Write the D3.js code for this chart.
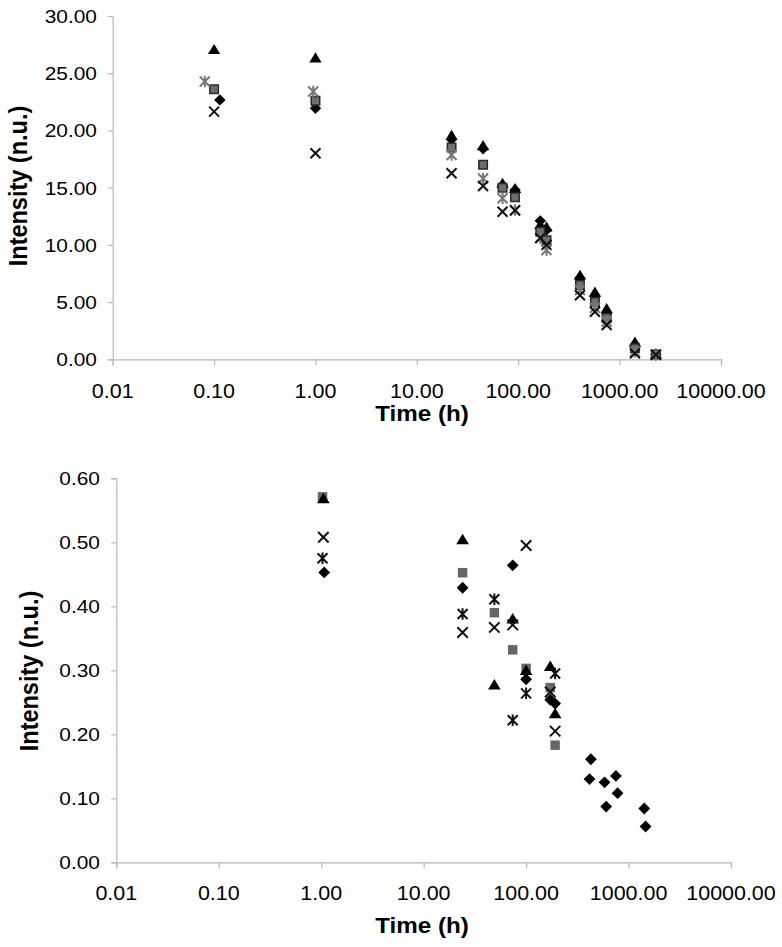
<!DOCTYPE html>
<html><head><meta charset="utf-8">
<script src="https://cdn.jsdelivr.net/npm/d3@7"></script>
<style>body{margin:0;background:#fff}svg{display:block}text{font-family:"Liberation Sans",Arial,sans-serif;fill:#000}</style>
</head><body>
<script>
// ---------- DATA ----------
const xTicks = [0.01, 0.1, 1, 10, 100, 1000, 10000];
const topYTicks = [0, 5, 10, 15, 20, 25, 30];
const botYTicks = [0, 0.1, 0.2, 0.3, 0.4, 0.5, 0.6];

// Top chart
const topDiamondT = [0.114, 1, 22, 45, 70, 93, 165, 190, 406, 571, 745, 1416, 2280];
const topDiamondV = [22.67, 21.94, 19.2, 18.4, 15.2, 14.8, 12.1, 11.3, 7.1, 5.5, 4.0, 1.1, 0.45];
const topSquareT = [0.1, 1, 22, 45, 70, 93, 165, 190, 406, 571, 745, 1416, 2280];
const topSquareV = [23.6, 22.6, 18.5, 17.0, 15.0, 14.16, 11.15, 10.4, 6.5, 5.0, 3.6, 0.96, 0.42];
const topTriangleT = [0.1, 1, 22, 45, 70, 93, 165, 190, 406, 571, 745, 1416, 2280];
const topTriangleV = [27.1, 26.37, 19.6, 18.7, 15.4, 14.95, 11.8, 11.6, 7.37, 5.9, 4.46, 1.54, 0.5];
const topXT = [0.1, 1, 22, 45, 70, 93, 165, 190, 406, 571, 745, 1416, 2280];
const topXV = [21.64, 18.0, 16.26, 15.15, 12.9, 13.0, 10.6, 10.0, 5.6, 4.16, 3.0, 0.52, 0.4];
const topStarT = [0.081, 0.95, 22, 45, 70, 93, 165, 190, 406, 571, 745, 1416, 2280];
const topStarV = [24.27, 23.4, 17.86, 15.8, 14.07, 13.05, 10.6, 9.55, 6.06, 4.5, 3.3, 0.66, 0.38];

// Bottom chart
const botDiamondT = [1.07, 24, 74, 100, 172, 192, 416, 429, 583, 605, 753, 781, 1423, 1466];
const botDiamondV = [0.453, 0.429, 0.464, 0.286, 0.254, 0.248, 0.130, 0.161, 0.125, 0.087, 0.135, 0.108, 0.084, 0.056];
const botSquareT = [1.03, 24, 49, 74, 100, 172, 192];
const botSquareV = [0.571, 0.4525, 0.39, 0.332, 0.303, 0.273, 0.183];
const botTriangleT = [1.05, 24, 49, 74, 100, 172, 192];
const botTriangleV = [0.569, 0.505, 0.278, 0.381, 0.3005, 0.307, 0.233];
const botXT = [1.05, 24, 49, 74, 100, 172, 192];
const botXV = [0.508, 0.359, 0.367, 0.371, 0.495, 0.266, 0.205];
const botStarT = [1.03, 24, 49, 74, 100, 192];
const botStarV = [0.475, 0.388, 0.411, 0.222, 0.264, 0.295];

const xLabel = "Time (h)";
const yLabel = "Intensity (n.u.)";

// ---------- DRAW ----------
const W = 782, H = 947;
const svg = d3.select("body").append("svg").attr("width", W).attr("height", H);

const symDiamond = {draw(c, s){const r=Math.sqrt(s)/2; c.moveTo(0,-r); c.lineTo(r,0); c.lineTo(0,r); c.lineTo(-r,0); c.closePath();}};
const symTri = {draw(c, s){const r=Math.sqrt(s)/2; c.moveTo(0,-r*0.85); c.lineTo(r,r*0.8); c.lineTo(-r,r*0.8); c.closePath();}};
const symSq = {draw(c, s){const r=Math.sqrt(s)/2; c.rect(-r,-r,2*r,2*r);}};
const symX = {draw(c, s){const r=Math.sqrt(s)/2; c.moveTo(-r,-r); c.lineTo(r,r); c.moveTo(r,-r); c.lineTo(-r,r);}};
const symStar = {draw(c, s){const r=Math.sqrt(s)/2; c.moveTo(-r,-r); c.lineTo(r,r); c.moveTo(r,-r); c.lineTo(-r,r); c.moveTo(0,-r*1.15); c.lineTo(0,r*1.15);}};

function chart(cfg){
  const x = d3.scaleLog().domain([0.01, 10000]).range([cfg.x0, cfg.x1]);
  const y = d3.scaleLinear().domain(cfg.yDomain).range([cfg.y0, cfg.y1]);
  const g = svg.append("g");
  // axes
  const xa = g.append("g").attr("transform", `translate(0,${cfg.y0})`)
    .call(d3.axisBottom(x).tickValues(xTicks).tickSize(6).tickFormat(""));
  const ya = g.append("g").attr("transform", `translate(${cfg.x0},0)`)
    .call(d3.axisLeft(y).tickValues(cfg.yTicks).tickSize(5).tickFormat(""));
  [xa, ya].forEach(a => { a.selectAll("path,line").attr("stroke", "#b8b8b8").attr("stroke-width", 1.2); });
  // tick labels (slightly stretched horizontally like the source image)
  g.selectAll(".xl").data(xTicks).enter().append("text")
    .attr("transform", d => `translate(${x(d)},${cfg.xLabY}) scale(1.1,1)`)
    .attr("text-anchor", "middle").attr("font-size", 19.5).text(d3.format(".2f"));
  g.selectAll(".yl").data(cfg.yTicks).enter().append("text")
    .attr("transform", d => `translate(${cfg.yLabX},${y(d)}) scale(1.1,1)`)
    .attr("text-anchor", "end").attr("dy", "0.36em").attr("font-size", 19).text(d3.format(".2f"));
  // titles
  g.append("text").attr("transform", `translate(422,${cfg.xTitleY}) scale(1.1,1)`)
    .attr("text-anchor", "middle").attr("font-weight", "bold").attr("font-size", 22).text(xLabel);
  g.append("text").attr("transform", `translate(${cfg.yTitleX},${cfg.yTitleY}) scale(1.1,1) rotate(-90)`)
    .attr("text-anchor", "middle").attr("font-weight", "bold").attr("font-size", 23.5).text(yLabel);
  // series
  const pts = (T, V) => T.map((t, i) => ({t, v: V[i]}));
  cfg.series.forEach(s => {
    g.append("g").selectAll("path").data(pts(s.t, s.v)).enter().append("path")
      .attr("transform", d => `translate(${x(d.t)},${y(d.v)})`)
      .attr("d", d3.symbol().type(s.type).size(s.size))
      .attr("fill", s.fill).attr("stroke", s.stroke).attr("stroke-width", s.sw);
  });
}

chart({
  x0: 112.7, x1: 721, y0: 359.3, y1: 16, yDomain: [0, 30], yTicks: topYTicks,
  xLabY: 398, yLabX: 97, xTitleY: 421, yTitleX: 27, yTitleY: 186,
  series: [
    {t: topTriangleT, v: topTriangleV, type: symTri, size: 150, fill: "#000", stroke: "none", sw: 0},
    {t: topDiamondT, v: topDiamondV, type: symDiamond, size: 130, fill: "#000", stroke: "none", sw: 0},
    {t: topSquareT, v: topSquareV, type: symSq, size: 72, fill: "#6e6e6e", stroke: "#2a2a2a", sw: 1.5},
    {t: topStarT, v: topStarV, type: symStar, size: 100, fill: "none", stroke: "#777", sw: 2},
    {t: topXT, v: topXV, type: symX, size: 100, fill: "none", stroke: "#111", sw: 2}
  ]
});

chart({
  x0: 116.3, x1: 731, y0: 862.3, y1: 478.3, yDomain: [0, 0.6], yTicks: botYTicks,
  xLabY: 900, yLabX: 100, xTitleY: 933, yTitleX: 38, yTitleY: 671,
  series: [
    {t: botSquareT, v: botSquareV, type: symSq, size: 90, fill: "#666", stroke: "none", sw: 0},
    {t: botTriangleT, v: botTriangleV, type: symTri, size: 160, fill: "#000", stroke: "none", sw: 0},
    {t: botDiamondT, v: botDiamondV, type: symDiamond, size: 140, fill: "#000", stroke: "none", sw: 0},
    {t: botStarT, v: botStarV, type: symStar, size: 100, fill: "none", stroke: "#111", sw: 2},
    {t: botXT, v: botXV, type: symX, size: 110, fill: "none", stroke: "#111", sw: 2}
  ]
});
</script>
</body></html>
